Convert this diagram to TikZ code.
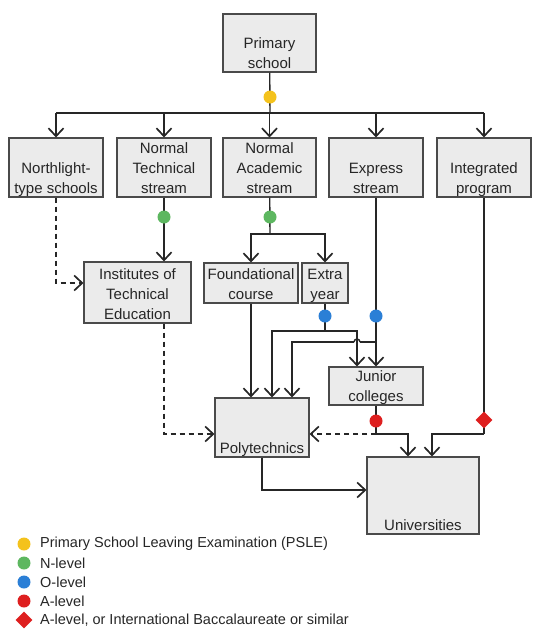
\documentclass[tikz,border=0pt]{standalone}
\usepackage{fontspec}
\setmainfont{Liberation Sans}
\usetikzlibrary{arrows.meta,shapes.geometric,calc}

\definecolor{boxfill}{HTML}{EBEBEB}
\definecolor{boxline}{HTML}{4A4A4A}
\definecolor{txt}{HTML}{262626}
\definecolor{psle}{HTML}{F4C21C}
\definecolor{nlev}{HTML}{5DB760}
\definecolor{olev}{HTML}{2B7FD6}
\definecolor{alev}{HTML}{DE1F1F}

\begin{document}
\begin{tikzpicture}[x=1pt,y=-1pt,
  box/.style={draw=boxline,fill=boxfill,line width=1.1pt,inner sep=0pt},
  lbl/.style={anchor=south,align=center,inner sep=0pt,text depth=0pt,yshift=4pt,
    font=\fontsize{15}{20}\selectfont,text=txt},
  link/.style={line width=1.4pt,draw=black!85},
  arr/.style={-{Straight Barb[length=8pt,width=15pt,line width=1.7pt]}},
  broken/.style={dash pattern=on 5pt off 4pt},
  dot/.style={circle,inner sep=0pt,minimum size=13pt},
  lozenge/.style={diamond,inner sep=0pt,minimum size=17pt},
  legend/.style={anchor=west,inner sep=0pt,font=\fontsize{14.5}{17}\selectfont,text=txt}]

  \fill[white] (0,0) rectangle (540,640);
  \useasboundingbox (0,0) rectangle (540,640);

  %% boxes
  \node[box,minimum width=93pt,minimum height=58pt,label={[lbl]south:Primary\\school}] (ps) at (269.5,43) {};
  \node[box,minimum width=94pt,minimum height=59pt,label={[lbl]south:Northlight-\\type schools}] (nl) at (56,167.5) {};
  \node[box,minimum width=94pt,minimum height=59pt,label={[lbl]south:Normal\\Technical\\stream}] (nt) at (164,167.5) {};
  \node[box,minimum width=93pt,minimum height=59pt,label={[lbl]south:Normal\\Academic\\stream}] (na) at (269.5,167.5) {};
  \node[box,minimum width=94pt,minimum height=59pt,label={[lbl]south:Express\\stream}] (ex) at (376,167.5) {};
  \node[box,minimum width=94pt,minimum height=59pt,label={[lbl]south:Integrated\\program}] (ip) at (484,167.5) {};

  \node[box,minimum width=107pt,minimum height=61pt,label={[lbl]south:Institutes of\\Technical\\Education}] (ite) at (137.5,292.5) {};
  \node[box,minimum width=94pt,minimum height=40pt,label={[lbl]south:Foundational\\course}] (fc) at (251,283) {};
  \node[box,minimum width=46pt,minimum height=40pt,label={[lbl]south:Extra\\year}] (ey) at (325,283) {};
  \node[box,minimum width=94pt,minimum height=38pt,label={[lbl]south:Junior\\colleges}] (jc) at (376,386) {};
  \node[box,minimum width=94pt,minimum height=59pt,label={[lbl]south:Polytechnics}] (poly) at (262,427.5) {};
  \node[box,minimum width=112pt,minimum height=77pt,label={[lbl]south:Universities}] (uni) at (423,495.5) {};

  %% primary school to the streams
  \coordinate (split) at (270,113);
  \draw[link] (ps) -- (split);
  \draw[link] (split -| nl) -- (split -| ip);
  \foreach \s in {nl,nt,na,ex,ip}
    \draw[link,arr] (split -| \s) -- (\s);

  %% streams to ITE
  \draw[link,broken,arr] (nl) |- ([yshift=9.5pt]ite.west);
  \draw[link,arr] (nt) -- (nt |- ite.north);

  %% normal academic
  \coordinate (nafork) at (270,234);
  \draw[link] (na) -- (nafork);
  \draw[link,arr] (nafork) -| (fc);
  \draw[link,arr] (nafork) -| (ey);
  \draw[link,arr] (fc) -- (fc |- poly.north);

  %% extra year, O-level
  \coordinate (eyfork) at (325,331);
  \coordinate (jcleft) at ([xshift=-19pt]jc.north);
  \draw[link] (ey) -- (eyfork);
  \draw[link,arr] (eyfork) -| ([xshift=10pt]poly.north);
  \draw[link,arr] (eyfork) -| (jcleft);

  %% express, O-level (hop over the extra year line)
  \coordinate (exfork) at (376,342);
  \coordinate (hopR) at ($(exfork -| jcleft)+(3,0)$);
  \coordinate (hopL) at ($(exfork -| jcleft)+(-3,0)$);
  \draw[link,arr] (ex) -- (ex |- jc.north);
  \draw[link] (exfork) -- (hopR);
  \draw[link] (hopR) arc[start angle=0,end angle=180,radius=3pt];
  \draw[link,arr] (hopL) -| ([xshift=30pt]poly.north);

  %% A-level
  \coordinate (jcfork) at (376,434);
  \draw[link] (jc) -- (jcfork);
  \draw[link,broken,arr] (jcfork) -- (jcfork -| poly.east);
  \draw[link,arr] (jcfork) -| ([xshift=-15pt]uni.north);
  \coordinate (ipfork) at (484,434);
  \draw[link] (ip) -- (ipfork);
  \draw[link,arr] (ipfork) -| ([xshift=9pt]uni.north);

  %% ITE and polytechnics
  \draw[link,broken,arr] ([xshift=26.5pt]ite.south) |- ([yshift=-6.5pt]poly.west);
  \draw[link,arr] (poly) |- ([yshift=5.5pt]uni.west);

  %% exams
  \node[dot,fill=psle] (e0) at (270,97) {};
  \node[dot,fill=nlev] (e1) at (164,217) {};
  \node[dot,fill=nlev] (e2) at (270,217) {};
  \node[dot,fill=olev] (e3) at (325,316) {};
  \node[dot,fill=olev] (e4) at (376,316) {};
  \node[dot,fill=alev] (e5) at (376,421) {};
  \node[lozenge,fill=alev] (e6) at (484,420) {};

  %% legend
  \foreach \c/\y/\t in {psle/544/Primary School Leaving Examination (PSLE),
      nlev/563/N-level,olev/582/O-level,alev/601/A-level}{
    \node[dot,fill=\c] (k\c) at (24,\y) {};
    \node[legend] (t\c) at (40,\y) {\t};
  }
  \node[lozenge,fill=alev] (kib) at (24,620) {};
  \node[legend] (tib) at (40,620) {A-level, or International Baccalaureate or similar};

\end{tikzpicture}
\end{document}
